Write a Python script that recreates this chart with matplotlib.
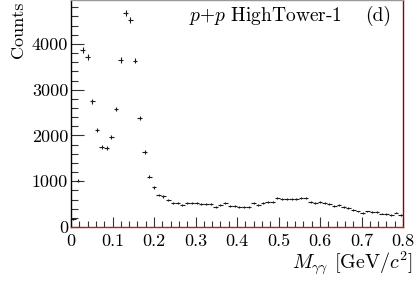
import numpy as np
import matplotlib
matplotlib.use("Agg")
import matplotlib.pyplot as plt

# ---------------------------------------------------------------------------
# Data: diphoton invariant mass, 70 bins between 0 and 0.8 GeV/c^2
# ---------------------------------------------------------------------------
mass_lo = 0.0
mass_hi = 0.8
counts = [
    175, 1010, 3870, 3710, 2750, 2120, 1755, 1730, 1960, 2580,
    3645, 4670, 4525, 3635, 2385, 1645, 1095, 870, 700, 670,
    590, 530, 530, 480, 530, 517, 517, 495, 495, 495,
    444, 481, 517, 459, 459, 444, 444, 444, 517, 481,
    517, 539, 554, 634, 619, 619, 619, 619, 634, 634,
    539, 532, 546, 517, 503, 450, 474, 440, 408, 380,
    340, 305, 340, 325, 322, 291, 280, 262, 315, 258,
]
x_ticks = [0.0, 0.1, 0.2, 0.3, 0.4, 0.5, 0.6, 0.7, 0.8]
x_tick_labels = ["0", "0.1", "0.2", "0.3", "0.4", "0.5", "0.6", "0.7", "0.8"]
y_ticks = [0, 1000, 2000, 3000, 4000]
y_tick_labels = ["0", "1000", "2000", "3000", "4000"]

plt.rcParams["font.family"] = "serif"
plt.rcParams["font.serif"] = ["cmr10"]
plt.rcParams["mathtext.fontset"] = "cm"
plt.rcParams["axes.formatter.use_mathtext"] = True
plt.rcParams["axes.unicode_minus"] = False

counts = np.array(counts, dtype=float)
n_bins = len(counts)
edges = np.linspace(mass_lo, mass_hi, n_bins + 1)
centers = 0.5 * (edges[:-1] + edges[1:])
half_width = 0.5 * (edges[1] - edges[0])
stat_err = np.sqrt(counts)   # Poisson errors

fig = plt.figure(figsize=(4.15, 2.85), dpi=100)
ax = fig.add_axes([71 / 415, 58 / 285, 332 / 415, 227 / 285])

ax.errorbar(centers, counts, xerr=half_width, yerr=stat_err,
            fmt="none", ecolor="#1a1a1a", elinewidth=0.8, capsize=0)

ax.set_xlim(mass_lo, mass_hi)
ax.set_ylim(0, 4960)

ax.set_xticks(x_ticks)
ax.set_xticklabels(x_tick_labels)
ax.set_yticks(y_ticks)
ax.set_yticklabels(y_tick_labels)
ax.set_xticks(np.arange(0, 0.8001, 0.02), minor=True)
ax.set_yticks(np.arange(0, 4960, 200), minor=True)

ax.tick_params(which="both", direction="in", colors="#333333",
               labelcolor="black", labelsize=13)
ax.tick_params(axis="x", which="major", length=7, width=0.8, pad=5)
ax.tick_params(axis="x", which="minor", length=4, width=0.8)
ax.tick_params(axis="y", which="major", length=9, width=0.8, pad=2)
ax.tick_params(axis="y", which="minor", length=5, width=0.8)

ax.spines["left"].set_color("black")
ax.spines["top"].set_color("#999999")
ax.spines["right"].set_color("#8b0000")
ax.spines["bottom"].set_color("#b22222")
for side in ["left", "top", "right", "bottom"]:
    ax.spines[side].set_linewidth(1.0)

ax.set_ylabel("Counts", fontsize=13, loc="top")
ax.yaxis.set_label_coords(-0.136, 0.995)

fig.text(413 / 415, 1 - 268 / 285, r"$M_{\gamma\gamma}$ [GeV$/c^2$]",
         ha="right", va="baseline", fontsize=14.5)

fig.text(189 / 415, 1 - 21 / 285, r"$p$+$p$ HighTower-1",
         ha="left", va="baseline", fontsize=14)
fig.text(365 / 415, 1 - 21 / 285, "(d)",
         ha="left", va="baseline", fontsize=14)

fig.savefig("out.png", dpi=100)
